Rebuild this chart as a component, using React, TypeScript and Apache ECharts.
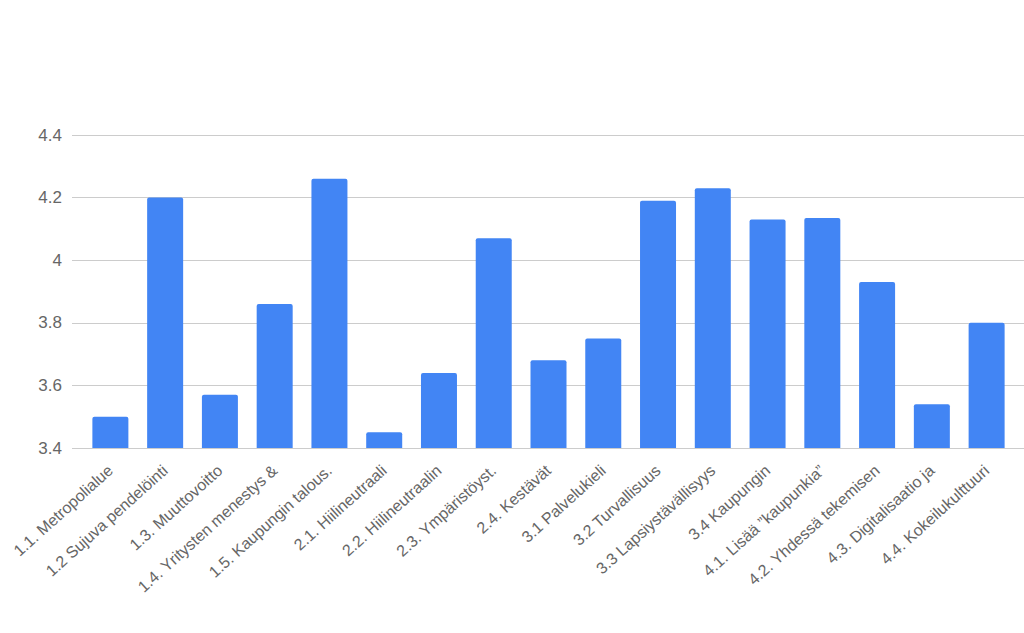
import React, { useEffect, useRef } from "react";
import * as echarts from "echarts";

const categories = [
  "1.1. Metropolialue",
  "1.2 Sujuva pendelöinti",
  "1.3. Muuttovoitto",
  "1.4. Yritysten menestys &",
  "1.5. Kaupungin talous.",
  "2.1. Hiilineutraali",
  "2.2. Hiilineutraalin",
  "2.3. Ympäristöyst.",
  "2.4. Kestävät",
  "3.1 Palvelukieli",
  "3.2 Turvallisuus",
  "3.3 Lapsiystävällisyys",
  "3.4 Kaupungin",
  "4.1. Lisää ”kaupunkia”",
  "4.2. Yhdessä tekemisen",
  "4.3. Digitalisaatio ja",
  "4.4. Kokeilukulttuuri",
];

const values = [3.5, 4.2, 3.57, 3.86, 4.26, 3.45, 3.64, 4.07, 3.68, 3.75, 4.19, 4.23, 4.13, 4.135, 3.93, 3.54, 3.8];

const yMin = 3.4;
const yMax = 4.4;
const yInterval = 0.2;

export default function App() {
  const ref = useRef<HTMLDivElement>(null);
  useEffect(() => {
    if (!ref.current) return;
    const chart = echarts.init(ref.current, null, { renderer: "svg" });
    const font = "'Liberation Sans', Arial, sans-serif";
    chart.setOption({
      animation: false,
      backgroundColor: "#ffffff",
      grid: [
        { left: 72, right: 0, top: 135, bottom: 185, containLabel: false },
        { left: 83, right: 10, top: 135, bottom: 185, containLabel: false },
      ],
      xAxis: [
        { gridIndex: 0, type: "category", data: categories, show: false },
        {
          gridIndex: 1,
          type: "category",
          data: categories,
          axisLine: { show: false },
          axisTick: { show: false },
          axisLabel: {
            interval: 0,
            rotate: 42,
            margin: 20,
            fontSize: 16,
            color: "#666666",
            fontFamily: font,
          },
        },
      ],
      yAxis: [
        {
          gridIndex: 0,
          type: "value",
          min: yMin,
          max: yMax,
          interval: yInterval,
          axisLine: { show: false },
          axisTick: { show: false },
          axisLabel: {
            fontSize: 17,
            color: "#666666",
            margin: 10,
            fontFamily: font,
            formatter: (v: number) => String(parseFloat(v.toFixed(1))),
          },
          splitLine: { lineStyle: { color: "#cccccc", width: 1 } },
        },
        {
          gridIndex: 1,
          type: "value",
          min: yMin,
          max: yMax,
          interval: yInterval,
          show: false,
          splitLine: { show: false },
        },
      ],
      series: [
        {
          type: "bar",
          xAxisIndex: 1,
          yAxisIndex: 1,
          data: values,
          barWidth: 36,
          itemStyle: { color: "#4285f4", borderRadius: [2, 2, 0, 0] },
        },
      ],
    });
    return () => chart.dispose();
  }, []);
  return <div ref={ref} style={{ width: 1024, height: 633, position: "absolute", left: 0, top: 0 }} />;
}
